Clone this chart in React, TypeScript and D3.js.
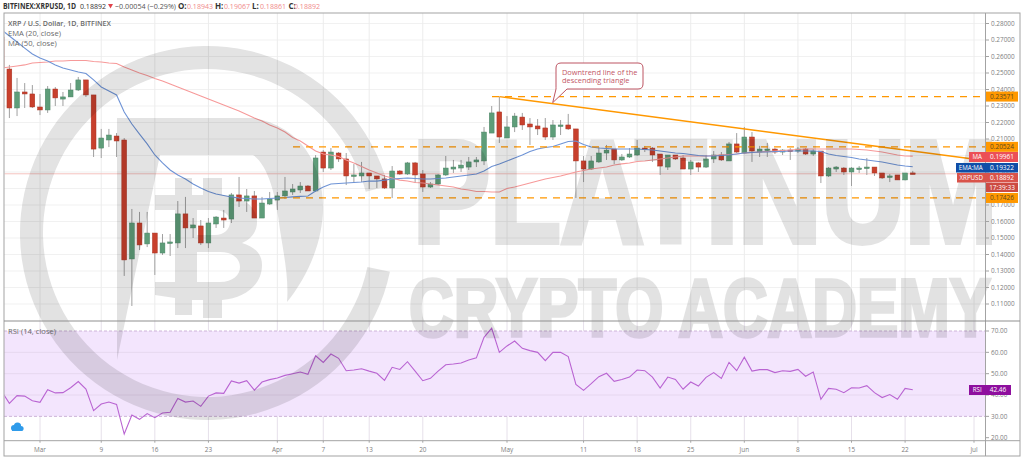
import * as d3 from "d3";

const width = 1024;
const height = 461;

// one value per day, Feb 25 to Jun 23
const opens = [
  0.2718, 0.2524, 0.2288, 0.2385, 0.2373, 0.2294, 0.2276, 0.2403, 0.2342, 0.2355, 0.2397, 0.2458, 0.2367, 0.2045, 0.2094, 0.2118,
  0.2094, 0.1373, 0.1591, 0.1464, 0.153, 0.1409, 0.147, 0.147, 0.1646, 0.1561, 0.1573, 0.147, 0.1585, 0.1621, 0.1615,
  0.1761, 0.1724, 0.1755, 0.1621, 0.1706, 0.173, 0.1755, 0.1779, 0.1791, 0.1815, 0.1785, 0.2021, 0.1924, 0.2015, 0.1979,
  0.1876, 0.1876, 0.1894, 0.1876, 0.1858, 0.1803, 0.1906, 0.1888, 0.1955, 0.1888, 0.1809, 0.1827, 0.1882, 0.1918, 0.1924,
  0.193, 0.1961, 0.1967, 0.2136, 0.2264, 0.2106, 0.2173, 0.2233, 0.2191, 0.2179, 0.2167, 0.2112, 0.2182, 0.2185, 0.2161,
  0.1967, 0.1918, 0.1961, 0.2015, 0.2039, 0.1973, 0.1991, 0.2003, 0.2045, 0.2045, 0.2009, 0.193, 0.2003, 0.1985, 0.1918,
  0.1955, 0.193, 0.1979, 0.2003, 0.1967, 0.207, 0.2015, 0.2112, 0.2021, 0.2033, 0.2039, 0.2021, 0.2033, 0.2027, 0.2039,
  0.2009, 0.2027, 0.1876, 0.1918, 0.1924, 0.19, 0.1918, 0.1924, 0.193, 0.1894, 0.187, 0.1882, 0.1852, 0.18943,
];
const highs = [
  0.276, 0.2549, 0.247, 0.2439, 0.2427, 0.2373, 0.2421, 0.2415, 0.2385, 0.2439, 0.2476, 0.2458, 0.2367, 0.2161, 0.2161, 0.2136,
  0.2106, 0.1676, 0.1658, 0.1658, 0.153, 0.1524, 0.1524, 0.1724, 0.1749, 0.1621, 0.1609, 0.1621, 0.1633, 0.167, 0.1773,
  0.187, 0.1797, 0.1785, 0.1749, 0.1779, 0.1779, 0.187, 0.1827, 0.1839, 0.1821, 0.2003, 0.2033, 0.2045, 0.2021, 0.2015,
  0.1948, 0.1961, 0.1894, 0.1876, 0.1882, 0.1936, 0.1912, 0.1961, 0.1961, 0.1912, 0.1839, 0.1888, 0.1997, 0.1973, 0.1973,
  0.1991, 0.1991, 0.2173, 0.23, 0.2355, 0.2239, 0.2258, 0.2258, 0.2227, 0.2221, 0.2227, 0.2215, 0.2215, 0.2252, 0.2161,
  0.1997, 0.1997, 0.2051, 0.2064, 0.2039, 0.2009, 0.2045, 0.2094, 0.2058, 0.2051, 0.2009, 0.2003, 0.2003, 0.2003, 0.1973,
  0.1961, 0.2003, 0.2027, 0.2021, 0.2082, 0.2136, 0.2173, 0.2142, 0.2058, 0.2076, 0.2045, 0.2039, 0.2045, 0.2051, 0.2045,
  0.2039, 0.2027, 0.193, 0.1936, 0.193, 0.193, 0.1936, 0.1985, 0.193, 0.1894, 0.1888, 0.1882, 0.1894, 0.19067,
];
const lows = [
  0.25, 0.2227, 0.2239, 0.2288, 0.2288, 0.2245, 0.2258, 0.23, 0.23, 0.2355, 0.2391, 0.2355, 0.1991, 0.1985, 0.2051, 0.1991,
  0.127, 0.1088, 0.1427, 0.1445, 0.1276, 0.1397, 0.1391, 0.1439, 0.1439, 0.15, 0.1458, 0.1439, 0.1561, 0.1561, 0.1591,
  0.1688, 0.1658, 0.1621, 0.1621, 0.17, 0.167, 0.1736, 0.1761, 0.1773, 0.1785, 0.1779, 0.19, 0.1912, 0.1961, 0.1821,
  0.1833, 0.1839, 0.1797, 0.1803, 0.1797, 0.1742, 0.1882, 0.1882, 0.1833, 0.1779, 0.1803, 0.1821, 0.1876, 0.1894, 0.19,
  0.1912, 0.193, 0.1942, 0.2136, 0.2076, 0.2106, 0.2142, 0.2155, 0.2064, 0.2124, 0.2094, 0.2094, 0.2124, 0.2155, 0.1742,
  0.1839, 0.1912, 0.1955, 0.1973, 0.1948, 0.1967, 0.1985, 0.1997, 0.2021, 0.1961, 0.1882, 0.1912, 0.1973, 0.1918, 0.1882,
  0.19, 0.1924, 0.1955, 0.1967, 0.1967, 0.2015, 0.2012, 0.1961, 0.1991, 0.1991, 0.2009, 0.2003, 0.1973, 0.2015, 0.2003,
  0.1997, 0.1833, 0.187, 0.19, 0.1882, 0.1815, 0.1894, 0.1882, 0.1876, 0.1858, 0.1839, 0.1852, 0.1849, 0.18861,
];
const closes = [
  0.253, 0.2288, 0.2385, 0.2373, 0.2294, 0.2276, 0.2403, 0.2349, 0.2355, 0.2397, 0.2458, 0.2367, 0.2039, 0.2106, 0.2124, 0.2088,
  0.1367, 0.1591, 0.1458, 0.153, 0.1409, 0.147, 0.1476, 0.1646, 0.1561, 0.1579, 0.147, 0.1591, 0.1627, 0.1609, 0.1761,
  0.1724, 0.1755, 0.1621, 0.1712, 0.1736, 0.1755, 0.1785, 0.1797, 0.1815, 0.1785, 0.1985, 0.1924, 0.2021, 0.1979, 0.1876,
  0.1882, 0.1894, 0.1876, 0.1858, 0.1803, 0.1906, 0.1888, 0.1955, 0.1882, 0.1809, 0.1827, 0.1882, 0.1924, 0.193, 0.1942,
  0.1961, 0.1973, 0.2142, 0.2258, 0.2112, 0.2173, 0.2239, 0.2185, 0.2173, 0.2161, 0.2112, 0.2185, 0.2185, 0.2161, 0.1967,
  0.1918, 0.1967, 0.2015, 0.2033, 0.1973, 0.1991, 0.2009, 0.2045, 0.2039, 0.2003, 0.1936, 0.2003, 0.1979, 0.1918, 0.1961,
  0.193, 0.1979, 0.2003, 0.1973, 0.207, 0.2021, 0.2112, 0.2027, 0.2039, 0.2039, 0.2021, 0.2033, 0.2027, 0.2039, 0.2009,
  0.2027, 0.1876, 0.1924, 0.193, 0.19, 0.1924, 0.1924, 0.193, 0.1894, 0.1864, 0.1876, 0.1852, 0.1894, 0.18892,
];
const ema20 = [
  0.2761, 0.2724, 0.2688, 0.2651, 0.2615, 0.2591, 0.2573, 0.2549, 0.253, 0.2518, 0.2506, 0.2497, 0.2458, 0.2415, 0.2391, 0.2367,
  0.2264, 0.2191, 0.213, 0.207, 0.2003, 0.1955, 0.1912, 0.1882, 0.1858, 0.1827, 0.1803, 0.1782, 0.1767, 0.1758, 0.1749,
  0.1742, 0.1739, 0.1736, 0.1736, 0.1739, 0.1742, 0.1745, 0.1749, 0.1752, 0.1755, 0.1785, 0.1809, 0.1827, 0.183, 0.1833,
  0.1836, 0.1839, 0.1845, 0.1845, 0.1851, 0.1858, 0.1861, 0.1864, 0.1861, 0.1858, 0.1858, 0.1861, 0.1864, 0.187, 0.1876,
  0.1882, 0.1888, 0.1906, 0.1933, 0.1949, 0.1967, 0.1985, 0.2003, 0.2024, 0.2039, 0.2048, 0.2055, 0.207, 0.2085, 0.2088,
  0.2067, 0.2051, 0.2045, 0.2042, 0.2039, 0.2039, 0.2039, 0.2039, 0.2036, 0.2033, 0.2027, 0.2021, 0.2015, 0.2012, 0.2006,
  0.2, 0.1997, 0.1997, 0.2, 0.2003, 0.2009, 0.2015, 0.2018, 0.2021, 0.2021, 0.2024, 0.2024, 0.2027, 0.2027, 0.2027,
  0.2027, 0.2024, 0.2009, 0.2, 0.1994, 0.1988, 0.1979, 0.1973, 0.1967, 0.1961, 0.1952, 0.1942, 0.1936, 0.19322,
];
const ma50 = [
  0.253, 0.2536, 0.2542, 0.2549, 0.2561, 0.2564, 0.2567, 0.2573, 0.2573, 0.2576, 0.2576, 0.2576, 0.257, 0.2567, 0.2561, 0.2558,
  0.2536, 0.2518, 0.25, 0.2485, 0.2467, 0.2452, 0.2433, 0.2415, 0.2397, 0.2379, 0.2361, 0.2342, 0.2324, 0.2306, 0.2288,
  0.227, 0.2249, 0.2227, 0.2209, 0.2185, 0.2167, 0.2142, 0.2109, 0.2088, 0.2058, 0.2027, 0.2009, 0.2003, 0.1994, 0.1973,
  0.1955, 0.1933, 0.1912, 0.1894, 0.1876, 0.1864, 0.1851, 0.1845, 0.1836, 0.1833, 0.1827, 0.1821, 0.1815, 0.1809, 0.1797,
  0.1791, 0.1782, 0.1782, 0.1779, 0.1779, 0.18, 0.1809, 0.1821, 0.1833, 0.1845, 0.1858, 0.1867, 0.1876, 0.1888, 0.19,
  0.1909, 0.1918, 0.1924, 0.193, 0.1942, 0.1949, 0.1955, 0.1964, 0.1967, 0.1973, 0.1979, 0.1985, 0.1991, 0.1997, 0.1997,
  0.1997, 0.1997, 0.2, 0.2003, 0.2006, 0.2009, 0.2015, 0.2018, 0.2021, 0.2024, 0.2027, 0.203, 0.2033, 0.2036, 0.2039,
  0.2039, 0.2039, 0.2039, 0.2039, 0.2039, 0.2039, 0.2036, 0.2033, 0.2027, 0.2021, 0.2012, 0.2003, 0.1997, 0.19961,
];
const rsi14 = [
  41.6, 36.1, 39.7, 39.5, 37.3, 36.6, 42.5, 41.0, 41.1, 43.4, 46.3, 42.8, 32.7, 35.8, 36.7, 35.6,
  21.7, 30.6, 28.6, 31.3, 29.4, 31.6, 31.9, 38.4, 36.7, 37.2, 34.7, 39.5, 41.0, 40.8, 46.6,
  45.6, 46.7, 42.3, 46.1, 47.2, 48.0, 49.2, 50.0, 50.8, 49.7, 58.4, 55.3, 59.2, 57.2, 51.4,
  51.7, 52.3, 51.2, 50.2, 46.9, 53.0, 52.0, 55.6, 51.2, 46.7, 47.8, 51.2, 54.2, 54.5, 55.0,
  56.4, 57.4, 67.0, 71.3, 60.0, 63.0, 65.3, 61.9, 60.8, 60.0, 56.1, 60.0, 60.0, 58.0, 45.0,
  42.2, 45.3, 48.6, 50.2, 46.4, 47.3, 48.4, 51.7, 51.4, 48.4, 43.3, 48.4, 47.3, 42.7, 46.1,
  44.2, 48.3, 50.5, 47.8, 55.3, 51.4, 57.7, 51.2, 51.9, 51.9, 50.5, 51.4, 51.1, 52.0, 48.8,
  50.8, 38.0, 43.1, 42.7, 41.1, 43.4, 43.3, 44.4, 41.1, 38.8, 40.2, 38.0, 43.1, 42.46,
];

const priceTicks = [0.28, 0.27, 0.26, 0.25, 0.24, 0.23, 0.22, 0.21, 0.2, 0.19, 0.18, 0.17, 0.16, 0.15, 0.14, 0.13, 0.12, 0.11];
const rsiTicks = [70, 60, 50, 40, 30, 20];
const timeTicks = [
  [2, 1, "Mar"], [2, 9, "9"], [2, 16, "16"], [2, 23, "23"], [3, 1, "Apr"], [3, 7, "7"], [3, 13, "13"], [3, 20, "20"],
  [4, 1, "May"], [4, 11, "11"], [4, 18, "18"], [4, 25, "25"], [5, 1, "Jun"], [5, 8, "8"], [5, 15, "15"], [5, 22, "22"], [6, 1, "Jul"],
] as [number, number, string][];

const day = (m: number, d: number) => new Date(Date.UTC(2020, m, d));
const days = d3.utcDay.range(day(1, 25), day(5, 24));

const plotLeft = 4;
const plotRight = 985.5;
const frameRight = 1020;
const top = 13;
const paneBottom = 321;
const rsiBottom = 440.7;
const frameBottom = 456;

const x = d3.scaleUtc().domain([day(2, 1), day(6, 1)]).range([40, 974]);
const y = d3.scaleLinear().domain([0.28, 0.11]).range([23.5, 304]);
const yRsi = d3.scaleLinear().domain([70, 20]).range([331, 437.7]);

const lineP = d3.line<number>().x((_, i) => x(days[i])).y((d) => y(d));
const lineR = d3.line<number>().x((_, i) => x(days[i])).y((d) => yRsi(d));

const ring = d3.arc()({ innerRadius: 164, outerRadius: 187, startAngle: 1.78, endAngle: 7.6, cornerRadius: 11 } as any) as string;

const orange = "#ff9800";
const axisGray = "#7d7d7d";
const upColor = "#5f9e7a";
const downColor = "#c8402d";
const font = "'Open Sans', 'DejaVu Sans', sans-serif";

const levels = [
  { value: 0.23571, from: 492 },
  { value: 0.20524, from: 293 },
  { value: 0.17426, from: 280 },
];

function PriceTag({ v, y0, h, x0, x1, fill, color, label, vx = 1002 }: any) {
  return (
    <g>
      <rect x={x0} y={y0} width={x1 - x0} height={h} fill={fill} />
      {label && (
        <text x={(x0 + 985.5) / 2} y={y0 + h / 2 + 2.3} fontSize={6.2} fill={color} textAnchor="middle">
          {label}
        </text>
      )}
      <text x={vx} y={y0 + h / 2 + 2.3} fontSize={6.5} fill={color} textAnchor="middle">
        {v}
      </text>
    </g>
  );
}

export default function App() {
  return (
    <div style={{ position: "absolute", left: 0, top: 0 }}>
      <svg width={width} height={height} style={{ display: "block", fontFamily: font }}>
        <defs>
          <clipPath id="pricePane">
            <rect x={plotLeft + 0.5} y={top} width={plotRight - plotLeft} height={paneBottom - top} />
          </clipPath>
          <clipPath id="rsiPane">
            <rect x={plotLeft + 0.5} y={paneBottom} width={plotRight - plotLeft} height={rsiBottom - paneBottom} />
          </clipPath>
          <clipPath id="markPane">
            <rect x={plotLeft} y={top} width={992 - plotLeft} height={rsiBottom - top} />
          </clipPath>
        </defs>
        <rect width={width} height={height} fill="#fff" />

        {/* grid */}
        {priceTicks.map((t) => (
          <line key={t} x1={plotLeft} x2={plotRight} y1={y(t)} y2={y(t)} stroke="#f1f1f1" />
        ))}
        {timeTicks.map(([m, d]) => (
          <g key={`${m}-${d}`}>
            <line x1={x(day(m, d))} x2={x(day(m, d))} y1={top} y2={paneBottom} stroke="#ececec" />
            <line x1={x(day(m, d))} x2={x(day(m, d))} y1={paneBottom} y2={rsiBottom} stroke="#e6e0ea" />
          </g>
        ))}

        {/* rsi band */}
        <rect x={plotLeft} y={yRsi(70)} width={plotRight - plotLeft} height={yRsi(30) - yRsi(70)} fill="#f3e5fd" />
        {[60, 50, 40].map((t) => (
          <line key={t} x1={plotLeft} x2={plotRight} y1={yRsi(t)} y2={yRsi(t)} stroke="#e6d8ef" />
        ))}
        {[70, 30].map((t) => (
          <line key={t} x1={plotLeft} x2={plotRight} y1={yRsi(t)} y2={yRsi(t)} stroke="#cdb4d8" strokeDasharray="3 2" />
        ))}

        {/* price pane */}
        <g clipPath="url(#pricePane)">
          <line x1={plotLeft} x2={plotRight} y1={y(closes[closes.length - 1])} y2={y(closes[closes.length - 1])} stroke="#f5c4bf" />
          {days.map((d, i) => {
            const up = closes[i] >= opens[i];
            const bodyTop = y(Math.max(opens[i], closes[i]));
            const bodyH = Math.max(1.5, Math.abs(y(opens[i]) - y(closes[i])));
            return (
              <g key={i}>
                <line x1={x(d)} x2={x(d)} y1={y(highs[i])} y2={y(lows[i])} stroke="#a0a0a0" />
                <rect
                  x={x(d) - 2.4}
                  y={bodyTop}
                  width={4.8}
                  height={bodyH}
                  fill={up ? upColor : downColor}
                  stroke={up ? "#4b8364" : "#a93424"}
                  strokeWidth={0.5}
                />
              </g>
            );
          })}
          <path d={lineP(ma50) as string} fill="none" stroke="#f79a9a" strokeWidth={1.1} />
          <path d={lineP(ema20) as string} fill="none" stroke="#6f94d6" strokeWidth={1.1} />
          {levels.map((l) => (
            <line key={l.value} x1={l.from} x2={plotRight} y1={y(l.value)} y2={y(l.value)} stroke={orange} strokeWidth={1.2} strokeDasharray="7 6" />
          ))}
          <line x1={x(day(3, 30))} y1={y(0.23571)} x2={973} y2={y(0.1979)} stroke={orange} strokeWidth={1.4} />
        </g>

        {/* rsi */}
        <g clipPath="url(#rsiPane)">
          <path d={lineR(rsi14) as string} fill="none" stroke="#b964d2" strokeWidth={1.1} />
        </g>

        {/* watermark */}
        <g clipPath="url(#markPane)">
          <g opacity={0.11} fill="#000" fontFamily="'Liberation Sans', Arial, sans-serif" fontWeight={700}>
            <path d={ring} transform="translate(207,233)" />
            <path d="M117,118 L253,118 C300,125 323,165 323,207 C323,245 305,280 287,302 C289,280 284,255 280,230 C276,195 268,165 253,155 L160,155 L117,360 Z" />
            <path
              fillRule="evenodd"
              d="M155,195 L175,195 L175,178 L192,178 L192,195 L203,195 L203,178 L222,178 L222,195 C245,197 257,207 257,222 C257,232 251,239 242,243 C255,247 262,254 262,265 C262,285 245,298 222,300 L222,318 L203,318 L203,300 L192,300 L192,315 L175,315 L175,298 L155,295 L155,282 L175,282 L175,210 L155,210 Z M197,210 L197,235 L215,235 C224,235 230,229 230,222 C230,215 224,210 215,210 Z M197,252 L197,282 L220,282 C233,282 240,275 240,267 C240,259 233,252 220,252 Z"
            />
            <text x={413} y={242} fontSize={145} textLength={588} lengthAdjust="spacingAndGlyphs" stroke="#000" strokeWidth={6} strokeLinejoin="miter">
              PLATINUM
            </text>
            <text x={409} y={336} fontSize={82} textLength={582} lengthAdjust="spacingAndGlyphs" stroke="#000" strokeWidth={3.5}>
              CRYPTO ACADEMY
            </text>
          </g>
        </g>

        {/* callout */}
        <path
          d="M561,63 L638,63 Q643,63 643,68 L643,84 Q643,89 638,89 L567,89 L552.7,102.7 L556,89 Q556,89 556,84 L556,68 Q556,63 561,63 Z"
          fill="#fff"
          stroke="#bd5563"
          strokeWidth={1}
        />
        <text x={562} y={75} fontSize={7.4} fill="#c25566">Downtrend line of the</text>
        <text x={562} y={82.5} fontSize={7.4} fill="#c25566">descending triangle</text>

        {/* frame */}
        <rect x={plotLeft} y={top} width={frameRight - plotLeft} height={frameBottom - top} fill="none" stroke="#a3a3a3" />
        <line x1={plotRight} x2={plotRight} y1={top} y2={frameBottom} stroke="#a3a3a3" />
        <line x1={plotLeft} x2={frameRight} y1={paneBottom} y2={paneBottom} stroke="#8f8f8f" />
        <line x1={plotLeft} x2={frameRight} y1={rsiBottom} y2={rsiBottom} stroke="#a3a3a3" />

        {/* price axis */}
        {priceTicks.map((t) => (
          <g key={t}>
            <line x1={plotRight} x2={989} y1={y(t)} y2={y(t)} stroke="#a3a3a3" />
            <text x={991} y={y(t) + 2.3} fontSize={6.4} fill={axisGray}>{t.toFixed(5)}</text>
          </g>
        ))}
        {rsiTicks.map((t) => (
          <g key={t}>
            <line x1={plotRight} x2={989} y1={yRsi(t)} y2={yRsi(t)} stroke="#a3a3a3" />
            <text x={991} y={yRsi(t) + 2.3} fontSize={6.4} fill={axisGray}>{t.toFixed(2)}</text>
          </g>
        ))}
        {timeTicks.map(([m, d, label]) => (
          <g key={label + m}>
            <line x1={x(day(m, d))} x2={x(day(m, d))} y1={rsiBottom} y2={rsiBottom + 2} stroke="#a3a3a3" />
            <text x={x(day(m, d))} y={451.5} fontSize={6.4} fill={axisGray} textAnchor="middle">{label}</text>
          </g>
        ))}

        {/* price tags */}
        {levels.map((l) => (
          <PriceTag key={l.value} v={l.value.toFixed(5)} y0={y(l.value) - 5} h={10} x0={986} x1={1018} fill={orange} color="#5a4a20" />
        ))}
        <PriceTag v="0.19961" label="MA" y0={152} h={10} x0={969} x1={1018} fill="#ec4f56" color="#fff" />
        <PriceTag v="0.19322" label="EMA:MA" y0={163} h={9.5} x0={956} x1={1018} fill="#0f4ea8" color="#fff" />
        <PriceTag v="0.18892" label="XRPUSD" y0={173} h={9.5} x0={957} x1={1018} fill="#d9534a" color="#fff" />
        <PriceTag v="17:39:33" y0={183} h={9} x0={986} x1={1018} fill="#cc4b42" color="#fff" />
        <PriceTag v="42.46" label="RSI" y0={385} h={10} x0={969} x1={1011} vx={998} fill="#8e0f9e" color="#fff" />

        {/* header */}
        <g fontSize={8}>
          <text x={3} y={8.5} fontWeight={700} fill="#333" textLength={73} lengthAdjust="spacingAndGlyphs">BITFINEX:XRPUSD, 1D</text>
          <text x={80} y={8.5} fill="#333" textLength={26} lengthAdjust="spacingAndGlyphs">0.18892</text>
          <path d="M108,4 L113,4 L110.5,8.5 Z" fill="#e0434b" />
          <text x={115} y={8.5} fill="#555" textLength={61} lengthAdjust="spacingAndGlyphs">−0.00054 (−0.29%)</text>
          <text x={178} y={8.5} fontWeight={700} fill="#333">O:</text>
          <text x={187} y={8.5} fill="#f08a8a" textLength={26} lengthAdjust="spacingAndGlyphs">0.18943</text>
          <text x={215} y={8.5} fontWeight={700} fill="#333">H:</text>
          <text x={224} y={8.5} fill="#f08a8a" textLength={26} lengthAdjust="spacingAndGlyphs">0.19067</text>
          <text x={252} y={8.5} fontWeight={700} fill="#333">L:</text>
          <text x={260} y={8.5} fill="#f08a8a" textLength={26} lengthAdjust="spacingAndGlyphs">0.18861</text>
          <text x={288.5} y={8.5} fontWeight={700} fill="#333">C:</text>
          <text x={294} y={8.5} fill="#f08a8a" textLength={26} lengthAdjust="spacingAndGlyphs">0.18892</text>
        </g>

        {/* legends */}
        <g fontSize={7.6} fill="#6a6a6a">
          <text x={8} y={26} fontWeight={600} textLength={103} lengthAdjust="spacingAndGlyphs">XRP / U.S. Dollar, 1D, BITFINEX</text>
          <text x={8} y={36}>EMA (20, close)</text>
          <text x={8} y={46}>MA (50, close)</text>
          <text x={8} y={334}>RSI (14, close)</text>
        </g>

        {/* cloud button */}
        <circle cx={17} cy={427} r={10} fill="#fff" />
        <g fill="#2f9bea">
          <circle cx={14} cy={428} r={3} />
          <circle cx={17.5} cy={426} r={3.6} />
          <circle cx={21} cy={428.5} r={2.6} />
          <rect x={12} y={428} width={10} height={3} />
        </g>
      </svg>
    </div>
  );
}
